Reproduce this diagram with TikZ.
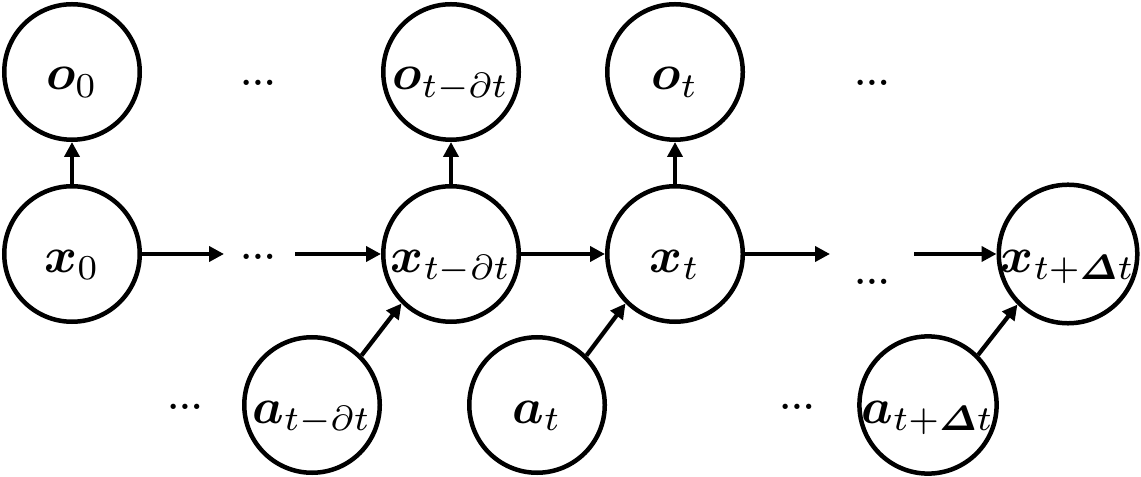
\documentclass[tikz,border=0pt]{standalone}
\usepackage{amsmath}
\usepackage{bm}
\usetikzlibrary{arrows.meta}
\begin{document}
\begin{tikzpicture}[x=0.2pt,y=-0.2pt,
  var/.style={circle,draw,line width=0.9pt,minimum size=27.1pt,inner sep=0pt,
              text height=7.2pt,text depth=0pt,font=\fontsize{10}{12}\selectfont},
  arr/.style={line width=0.85pt,-{Triangle[length=3pt,width=3pt]}},
  dotsnode/.style={inner sep=0pt,font=\fontsize{6.5}{7}\selectfont\bfseries}]
\useasboundingbox (0,0) rectangle (1141,477);
% observations
\node[var] (o0) at (72,72) {$\bm{o}_0$};
\node[var] (o1) at (451,72) {$\bm{o}_{t-\partial t}$};
\node[var] (o2) at (675,72) {$\bm{o}_t$};
% states
\node[var] (x0) at (72,254) {$\bm{x}_0$};
\node[var] (x1) at (451,254) {$\bm{x}_{t-\partial t}$};
\node[var] (x2) at (675,254) {$\bm{x}_t$};
\node[var] (x3) at (1068,254) {$\bm{x}_{t+\bm{\mathnormal{\Delta}} t}$};
% actions
\node[var] (a1) at (312,405) {$\bm{a}_{t-\partial t}$};
\node[var] (a2) at (537,405) {$\bm{a}_t$};
\node[var] (a3) at (928,405) {$\bm{a}_{t+\bm{\mathnormal{\Delta}} t}$};
% ellipses
\node[dotsnode] (d1) at (258,83) {...};
\node[dotsnode] (d2) at (872,83) {...};
\node[dotsnode] (d3) at (258,257) {...};
\node[dotsnode] (d4) at (872,282) {...};
\node[dotsnode] (d5) at (185,407) {...};
\node[dotsnode] (d6) at (797,407) {...};
% free ends
\coordinate (c1) at (224,254);
\coordinate (c2) at (295,254);
\coordinate (c3) at (830,254);
\coordinate (c4) at (914,254);
% connectors
\draw[arr] (x0) -- (o0);
\draw[arr] (x1) -- (o1);
\draw[arr] (x2) -- (o2);
\draw[arr] (x0) -- (c1);
\draw[arr] (c2) -- (x1);
\draw[arr] (x1) -- (x2);
\draw[arr] (x2) -- (c3);
\draw[arr] (c4) -- (x3);
\draw[arr] (a1.45) -- (x1.225);
\draw[arr] (a2.45) -- (x2.225);
\draw[arr] (a3.45) -- (x3.225);
\end{tikzpicture}
\end{document}
